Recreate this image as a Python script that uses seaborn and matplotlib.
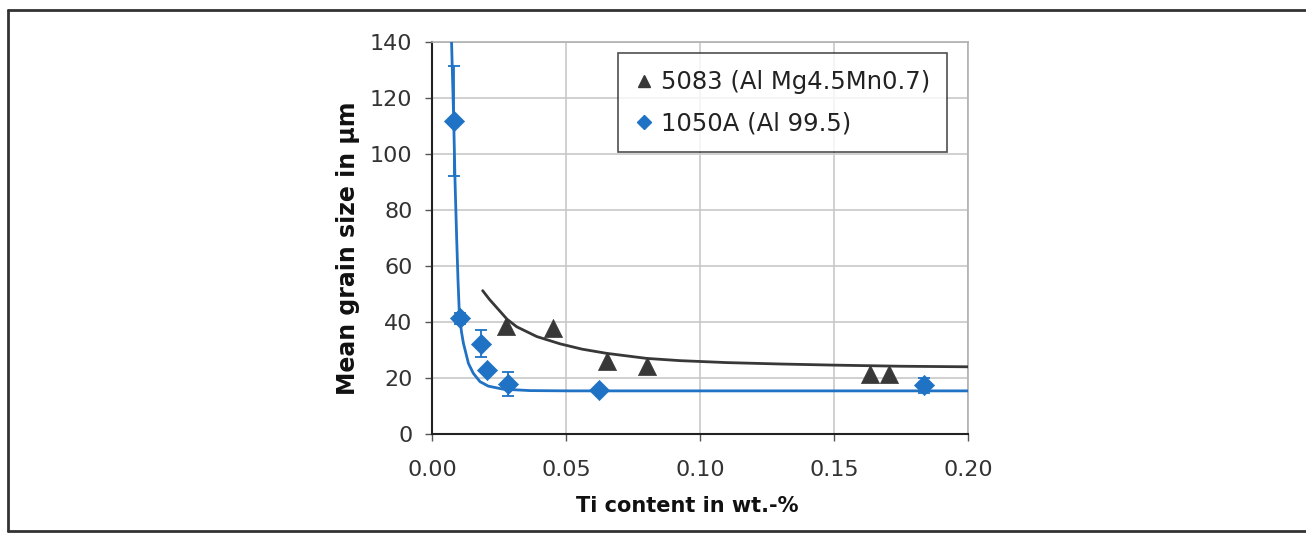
import matplotlib
matplotlib.use("Agg")
import matplotlib.pyplot as plt
import seaborn as sns
import pandas as pd
from matplotlib.lines import Line2D

# ---- data ----
ti_1050 = [0.0081, 0.0104, 0.0184, 0.0204, 0.0284, 0.0624, 0.1836]
gs_1050 = [111.8, 41.3, 32.2, 22.7, 17.7, 15.6, 17.4]
err_1050 = [19.5, 2.0, 4.8, 0.0, 4.3, 0.0, 2.6]

ti_5083 = [0.0275, 0.0453, 0.0653, 0.0801, 0.1634, 0.1704]
gs_5083 = [38.4, 37.9, 26.2, 24.3, 21.5, 21.5]

fit_1050_x = [0.0073, 0.0077, 0.0081, 0.0086, 0.0092, 0.0097, 0.0102, 0.0110,
              0.0117, 0.0136, 0.0154, 0.0179, 0.0210, 0.0266, 0.0366, 0.0515, 0.2000]
fit_1050_y = [140, 126, 112, 90, 70, 55, 43, 36.5,
              32.5, 25.2, 21.7, 18.7, 17.1, 16.0, 15.5, 15.4, 15.4]

fit_5083_x = [0.0189, 0.0215, 0.0241, 0.0280, 0.0316, 0.0391, 0.0478, 0.0560,
              0.0652, 0.0801, 0.0925, 0.110, 0.130, 0.150, 0.175, 0.200]
fit_5083_y = [51.2, 48.0, 45.2, 41.0, 38.3, 34.8, 32.2, 30.3,
              28.8, 27.0, 26.2, 25.5, 25.0, 24.6, 24.2, 24.0]

x_ticks = [0.00, 0.05, 0.10, 0.15, 0.20]
x_ticklabels = ["0.00", "0.05", "0.10", "0.15", "0.20"]
y_ticks = [0, 20, 40, 60, 80, 100, 120, 140]

label_5083 = "5083 (Al Mg4.5Mn0.7)"
label_1050 = "1050A (Al 99.5)"

# ---- styling ----
sns.set_theme(style="white")
plt.rcParams["font.family"] = ["DejaVu Sans"]

blue = "#1f72c4"
dark = "#383838"

fig = plt.figure(figsize=(13.06, 5.36), dpi=100)
ax = fig.add_axes([432 / 1306, 1 - 434 / 536, 536 / 1306, 392 / 536])

df_fit_b = pd.DataFrame({"x": fit_1050_x, "y": fit_1050_y})
df_fit_k = pd.DataFrame({"x": fit_5083_x, "y": fit_5083_y})
df_b = pd.DataFrame({"x": ti_1050, "y": gs_1050})
df_k = pd.DataFrame({"x": ti_5083, "y": gs_5083})

sns.lineplot(data=df_fit_b, x="x", y="y", ax=ax, color=blue, lw=2.0,
             sort=False, estimator=None, zorder=3)
sns.lineplot(data=df_fit_k, x="x", y="y", ax=ax, color=dark, lw=2.0,
             sort=False, estimator=None, zorder=3)

ax.errorbar(ti_1050, gs_1050, yerr=err_1050, fmt="none", ecolor=blue,
            elinewidth=1.3, capsize=4, capthick=1.3, zorder=4)

sns.scatterplot(data=df_k, x="x", y="y", ax=ax, marker="^", s=170,
                color=dark, edgecolor=dark, linewidth=0.5, zorder=5)
sns.scatterplot(data=df_b, x="x", y="y", ax=ax, marker="D", s=105,
                color=blue, edgecolor=blue, linewidth=0.5, zorder=5)

ax.set_xlim(0, 0.20)
ax.set_ylim(0, 140)
ax.set_xticks(x_ticks)
ax.set_xticklabels(x_ticklabels)
ax.set_yticks(y_ticks)

ax.grid(True, color="#c8c8c8", lw=1.2)
ax.set_axisbelow(True)
for s in ["top", "right"]:
    ax.spines[s].set_color("#b0b0b0")
    ax.spines[s].set_linewidth(1.2)
for s in ["left", "bottom"]:
    ax.spines[s].set_color("#222222")
    ax.spines[s].set_linewidth(1.5)

ax.tick_params(axis="both", which="major", direction="out", length=5,
               width=1, color="#555555", labelsize=16, labelcolor="#333333",
               bottom=True, left=True)
ax.tick_params(axis="x", pad=14)
ax.tick_params(axis="y", pad=9)

ax.set_xlabel("Ti content in wt.-%", fontsize=15, fontweight="bold",
              color="#111111")
ax.set_ylabel("Mean grain size in µm", fontsize=17, fontweight="bold",
              color="#111111")
ax.xaxis.set_label_coords((687 - 432) / 536, (434 - 496) / 392)
ax.yaxis.set_label_coords((360 - 432) / 536, (434 - 248) / 392)

handles = [
    Line2D([], [], marker="^", linestyle="none", color=dark, markersize=9),
    Line2D([], [], marker="D", linestyle="none", color=blue, markersize=7),
]
leg = ax.legend(handles, [label_5083, label_1050], loc="upper left",
                bbox_to_anchor=((618 - 432) / 536, (434 - 53) / 392),
                frameon=True, fancybox=False, shadow=False, fontsize=17.5,
                handlelength=0.7, handletextpad=0.35, borderpad=0.7,
                labelspacing=0.7, borderaxespad=0)
leg.get_frame().set_edgecolor("#222222")
leg.get_frame().set_linewidth(1.2)
for t in leg.get_texts():
    t.set_color("#222222")

# outer frame of the figure
for xs, ys in [((8 / 1306, 8 / 1306), (1 - 10 / 536, 1 - 531 / 536)),
               ((8 / 1306, 1.01), (1 - 10 / 536, 1 - 10 / 536)),
               ((8 / 1306, 1.01), (1 - 531 / 536, 1 - 531 / 536))]:
    fig.add_artist(Line2D(xs, ys, transform=fig.transFigure,
                          color="#333333", lw=2))

fig.savefig("out.png", dpi=100)
